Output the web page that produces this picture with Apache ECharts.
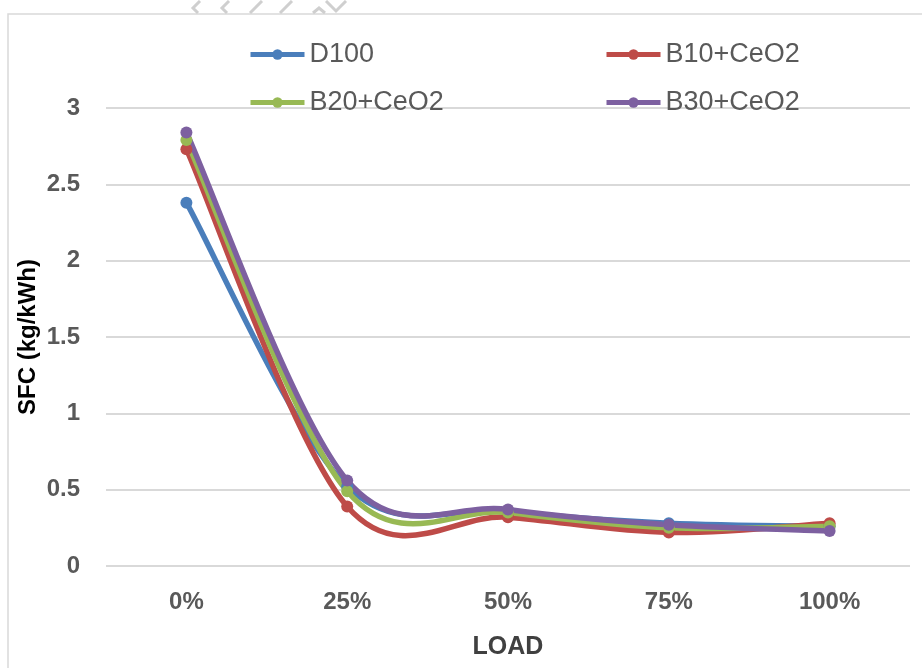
<!DOCTYPE html>
<html>
<head>
<meta charset="utf-8">
<script src="https://cdn.jsdelivr.net/npm/echarts@6/dist/echarts.min.js"></script>
<style>
  html, body { margin: 0; padding: 0; background: #fff; }
  #main { width: 922px; height: 668px; }
</style>
</head>
<body>
<div id="main"></div>
<script>
// categories and values
var loads = ['0%', '25%', '50%', '75%', '100%'];
var d100 = [2.38, 0.52, 0.36, 0.28, 0.26];
var b10 = [2.73, 0.39, 0.32, 0.22, 0.28];
var b20 = [2.79, 0.49, 0.35, 0.25, 0.26];
var b30 = [2.84, 0.56, 0.37, 0.27, 0.23];
var seriesNames = ['D100', 'B10+CeO2', 'B20+CeO2', 'B30+CeO2'];
var colors = ['#4a7ebb', '#be4b48', '#98b954', '#7d60a0'];

var chart = echarts.init(document.getElementById('main'));
var labelFont = 'Liberation Sans, Arial, sans-serif';

// Excel style smoothed line: one bezier per segment, control points from neighbours
function makeCurve(name, values, color) {
  return {
    name: name + ' curve',
    type: 'custom',
    data: values.map(function (v, i) { return [i, v]; }),
    encode: { x: 0, y: 1 },
    silent: true,
    renderItem: function (params, api) {
      var i = params.dataIndex;
      var n = values.length;
      if (i >= n - 1) return null;
      function pt(j) {
        j = Math.max(0, Math.min(n - 1, j));
        return api.coord([j, values[j]]);
      }
      var p0 = pt(i - 1), p1 = pt(i), p2 = pt(i + 1), p3 = pt(i + 2);
      return {
        type: 'bezierCurve',
        shape: {
          x1: p1[0], y1: p1[1],
          cpx1: p1[0] + (p2[0] - p0[0]) / 6, cpy1: p1[1] + (p2[1] - p0[1]) / 6,
          cpx2: p2[0] - (p3[0] - p1[0]) / 6, cpy2: p2[1] - (p3[1] - p1[1]) / 6,
          x2: p2[0], y2: p2[1]
        },
        style: { stroke: color, lineWidth: 5.5, fill: null, lineCap: 'round' }
      };
    }
  };
}

function makeMarkers(name, values, color) {
  return {
    name: name,
    type: 'line',
    data: values,
    symbol: 'circle',
    symbolSize: 12,
    lineStyle: { width: 0, opacity: 0, color: color },
    itemStyle: { color: color },
    emphasis: { disabled: true }
  };
}

// one legend per item so each sits where it does in the picture
function makeLegend(name, left, top) {
  return {
    data: [name],
    left: left,
    top: top,
    padding: 0,
    itemWidth: 54,
    itemHeight: 13,
    itemGap: 4,
    lineStyle: { width: 5, opacity: 1 },
    textStyle: { fontSize: 27, color: '#595959', fontFamily: labelFont }
  };
}

var series = [];
[d100, b10, b20, b30].forEach(function (vals, k) {
  series.push(makeCurve(seriesNames[k], vals, colors[k]));
  series.push(makeMarkers(seriesNames[k], vals, colors[k]));
});

var option = {
  animation: false,
  color: colors,
  graphic: [
    { type: 'rect', shape: { x: 8, y: 14, width: 930, height: 680 }, style: { fill: 'none', stroke: '#d9d9d9', lineWidth: 1.5 }, silent: true },
    { type: 'polyline', shape: { points: [[200, 1], [193, 8], [198, 13]] }, style: { stroke: '#cfcfcf', lineWidth: 3, fill: 'none' } },
    { type: 'polyline', shape: { points: [[229, 1], [222, 8], [227, 13]] }, style: { stroke: '#cfcfcf', lineWidth: 3, fill: 'none' } },
    { type: 'line', shape: { x1: 262, y1: 1, x2: 250, y2: 13 }, style: { stroke: '#cfcfcf', lineWidth: 3 } },
    { type: 'line', shape: { x1: 292, y1: 1, x2: 280, y2: 13 }, style: { stroke: '#cfcfcf', lineWidth: 3 } },
    { type: 'polyline', shape: { points: [[313, 13], [319, 8], [325, 13]] }, style: { stroke: '#cfcfcf', lineWidth: 3, fill: 'none' } },
    { type: 'polyline', shape: { points: [[326, 1], [336, 11], [346, 1]] }, style: { stroke: '#cfcfcf', lineWidth: 3, fill: 'none' } }
  ],
  legend: [
    makeLegend(seriesNames[0], 248, 41),
    makeLegend(seriesNames[1], 604, 41),
    makeLegend(seriesNames[2], 248, 89),
    makeLegend(seriesNames[3], 604, 89)
  ],
  grid: { left: 106, right: 12, top: 108, bottom: 102 },
  xAxis: {
    type: 'category',
    data: loads,
    boundaryGap: true,
    name: 'LOAD',
    nameLocation: 'middle',
    nameGap: 69,
    nameTextStyle: { fontSize: 25, fontWeight: 'bold', color: '#404040', fontFamily: labelFont },
    axisLine: { show: false },
    axisTick: { show: false },
    axisLabel: { fontSize: 24, fontWeight: 'bold', color: '#595959', margin: 24, fontFamily: labelFont }
  },
  yAxis: {
    type: 'value',
    min: 0,
    max: 3,
    interval: 0.5,
    name: 'SFC (kg/kWh)',
    nameLocation: 'middle',
    nameGap: 66,
    nameMoveOverlap: false,
    nameTextStyle: { fontSize: 24, fontWeight: 'bold', color: '#000', fontFamily: labelFont },
    axisLine: { show: false },
    axisTick: { show: false },
    splitLine: { lineStyle: { color: '#d9d9d9', width: 2 } },
    axisLabel: { fontSize: 24, fontWeight: 'bold', color: '#595959', margin: 26, fontFamily: labelFont }
  },
  series: series
};

chart.setOption(option);
</script>
</body>
</html>
